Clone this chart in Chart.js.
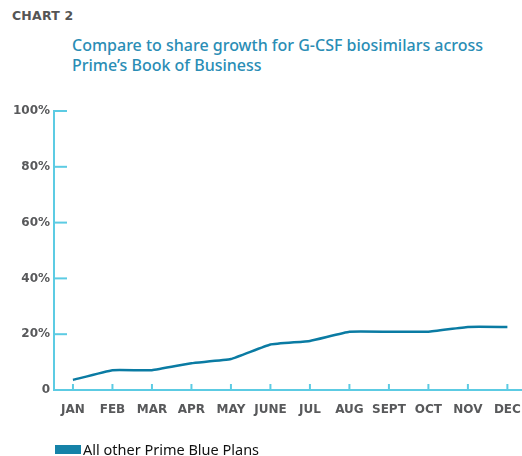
<!DOCTYPE html>
<html>
<head>
<meta charset="utf-8">
<script src="https://cdn.jsdelivr.net/npm/chart.js@4/dist/chart.umd.min.js"></script>
<style>
  html, body { margin: 0; padding: 0; background: #fff; }
  #wrap { position: relative; width: 522px; height: 456px; overflow: hidden; }
  #kicker { position: absolute; left: 12px; top: 8px; font: bold 12.5px "DejaVu Sans", sans-serif; color: #555; letter-spacing: 0.2px; }
  #title { position: absolute; left: 72px; top: 35px; font: 500 16px "Noto Sans", sans-serif; color: #2a8db5; line-height: 20px; }
  #legend { position: absolute; left: 55px; top: 439px; font: 14.5px "Noto Sans", sans-serif; color: #111; display: flex; align-items: center; }
  #legend span.box { display: inline-block; width: 26px; height: 9px; background: #1582a8; margin-right: 2px; }
  canvas { position: absolute; left: 0; top: 0; }
</style>
</head>
<body>
<div id="wrap">
  <div id="kicker">CHART 2</div>
  <div id="title">Compare to share growth for G-CSF biosimilars across<br>Prime’s Book of Business</div>
  <canvas id="chart" width="522" height="456"></canvas>
  <div id="legend"><span class="box"></span>All other Prime Blue Plans</div>
</div>
<script>
const months = ['JAN', 'FEB', 'MAR', 'APR', 'MAY', 'JUNE', 'JUL', 'AUG', 'SEPT', 'OCT', 'NOV', 'DEC'];
const primeBluePlans = [3.6, 7.1, 7.1, 9.6, 11.1, 16.3, 17.6, 20.9, 20.9, 20.9, 22.6, 22.6];
const yTicks = [0, 20, 40, 60, 80, 100];

const axisColor = '#5ccbe3';
const labelColor = '#58595b';

// Tick marks drawn inward from the axes
const innerTicks = {
  id: 'innerTicks',
  afterDraw(chart) {
    const { ctx, scales: { x, y } } = chart;
    ctx.save();
    ctx.strokeStyle = axisColor;
    ctx.lineWidth = 2;
    yTicks.forEach(v => {
      if (v === 0) return;
      const py = y.getPixelForValue(v);
      ctx.beginPath();
      ctx.moveTo(x.left, py);
      ctx.lineTo(x.left + 13, py);
      ctx.stroke();
    });
    months.forEach((m, i) => {
      const px = x.getPixelForValue(i);
      ctx.beginPath();
      ctx.moveTo(px, y.bottom);
      ctx.lineTo(px, y.bottom - 6);
      ctx.stroke();
    });
    ctx.restore();
  }
};

new Chart(document.getElementById('chart').getContext('2d'), {
  type: 'line',
  data: {
    datasets: [{
      label: 'All other Prime Blue Plans',
      data: primeBluePlans.map((v, i) => ({ x: i, y: v })),
      borderColor: '#0a7ba3',
      borderWidth: 2.5,
      pointRadius: 0,
      tension: 0.1,
      fill: false
    }]
  },
  options: {
    responsive: false,
    animation: false,
    layout: { padding: { left: 0, top: 111, right: 0, bottom: 36 } },
    plugins: { legend: { display: false }, tooltip: { enabled: false } },
    scales: {
      x: {
        type: 'linear',
        min: -0.48,
        max: 11.37,
        afterBuildTicks: (scale) => { scale.ticks = months.map((m, i) => ({ value: i })); },
        afterFit: (scale) => {
          scale.height = 30;
          scale.paddingLeft = 0;
          scale.paddingRight = 0;
        },
        grid: { display: false, drawTicks: false },
        border: { color: axisColor, width: 2 },
        ticks: {
          autoSkip: false,
          maxRotation: 0,
          padding: 13,
          color: labelColor,
          font: { family: 'DejaVu Sans', size: 12, weight: 'bold' },
          callback: (v) => months[v]
        }
      },
      y: {
        min: 0,
        max: 100,
        afterBuildTicks: (scale) => { scale.ticks = yTicks.map(v => ({ value: v })); },
        afterFit: (scale) => { scale.width = 54; },
        grid: { display: false, drawTicks: false },
        border: { color: axisColor, width: 2 },
        ticks: {
          padding: 4,
          color: labelColor,
          font: { family: 'DejaVu Sans', size: 12, weight: 'bold' },
          callback: (v) => v === 0 ? '0' : v + '%'
        }
      }
    }
  },
  plugins: [innerTicks]
});
</script>
</body>
</html>
